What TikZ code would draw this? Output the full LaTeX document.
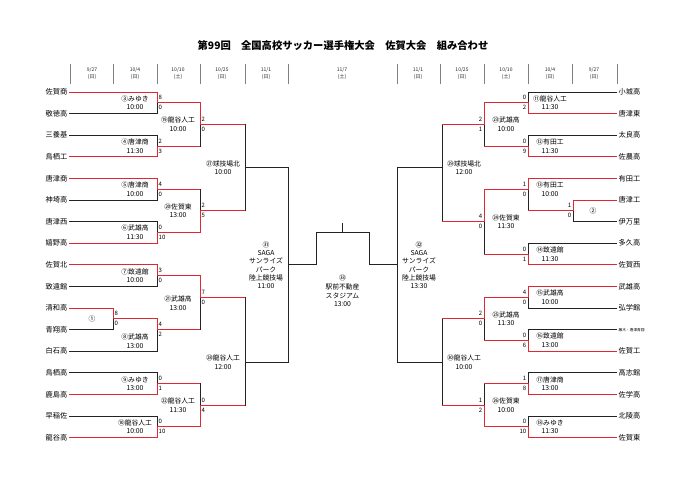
\documentclass[tikz,border=0pt]{standalone}
\usepackage{fontspec}
\setmainfont{Noto Sans CJK JP}
\definecolor{winred}{RGB}{222,40,52}
\definecolor{ink}{RGB}{35,35,35}
\tikzset{
  team/.style={font=\fontsize{7.2}{8}\selectfont, inner sep=1.5pt},
  game/.style={font=\fontsize{6.8}{8.6}\selectfont, align=center, inner sep=0pt},
  score/.style={font=\fontsize{6}{7}\selectfont, inner sep=0pt},
  datelab/.style={font=\fontsize{5}{6.5}\selectfont, align=center, text=ink},
  lose/.style={draw=ink, line width=0.75pt},
  win/.style={draw=winred, line width=0.95pt},
  tick/.style={draw=gray, line width=0.5pt}
}

\begin{document}
\begin{tikzpicture}[x=1pt, y=-1pt]
\fill[white] (0,0) rectangle (700,495);
\useasboundingbox (0,0) rectangle (700,495);

\node[font=\bfseries\fontsize{10.3}{12}\selectfont] (title) at (343,46) {第99回　全国高校サッカー選手権大会　佐賀大会　組み合わせ};

\foreach \x in {70,113,157,200,245,288,397,440,484,528,572,617}
  \draw[tick] (\x,64) -- (\x,84);
\foreach \x/\mo/\dd/\w in {92/9/27/日,135/10/4/日,178/10/10/土,222/10/25/日,266/11/1/日,342/11/7/土,418/11/1/日,462/10/25/日,506/10/10/土,550/10/4/日,594/9/27/日}
  \node[datelab] at (\x,73.5) {\mo/\dd\\(\w)};

\foreach \t [count=\i from 0] in {佐賀商,敬徳高,三養基,鳥栖工,唐津商,神埼高,唐津西,嬉野高,佐賀北,致遠館,清和高,青翔高,白石高,鳥栖高,鹿島高,早稲佐,龍谷高}
  \node[team, anchor=east] (L\i) at (69,{92+21.6*\i}) {\t};
\foreach \t [count=\i from 0] in {小城高,唐津東,太良高,佐農高,有田工,唐津工,伊万里,多久高,佐賀西,武雄高,弘学館,{\fontsize{3.7}{4}\selectfont 厳木・唐津青翔},佐賀工,高志館,佐学高,北陵高,佐賀東}
  \node[team, anchor=west] (R\i) at (617,{92+21.6*\i}) {\t};

\foreach \m/\x/\r in {m1/113/21,m3/157/1,m4/157/5,m5/157/9,m6/157/13,m7/157/17,m8/157/22,m9/157/27,m10/157/31,m19/200/3,m20/200/11,m21/200/19,m22/200/29,m27/245/7,m28/245/25,m31/288/16,m2/573/11,m11/528/1,m12/528/5,m13/528/9,m14/528/15,m15/528/19,m16/528/23,m17/528/27,m18/528/31,m23/484/3,m24/484/12,m25/484/21,m26/484/29,m29/442/7,m30/442/25,m32/397/16}
  \coordinate (\m) at (\x,{92+10.8*\r});
\coordinate (fl) at (316,232.3);
\coordinate (fr) at (369.3,232.3);
\coordinate (m33) at (342.7,232.3);

\foreach \m/\a/\b in {m1/L10.east/L11.east,m3/L0.east/L1.east,m4/L2.east/L3.east,m5/L4.east/L5.east,m6/L6.east/L7.east,m7/L8.east/L9.east,m8/m1/L12.east,m9/L13.east/L14.east,m10/L15.east/L16.east,m19/m3/m4,m20/m5/m6,m21/m7/m8,m22/m9/m10,m27/m19/m20,m28/m21/m22,m31/m27/m28,m2/R5.west/R6.west,m11/R0.west/R1.west,m12/R2.west/R3.west,m13/R4.west/m2,m14/R7.west/R8.west,m15/R9.west/R10.west,m16/R11.west/R12.west,m17/R13.west/R14.west,m18/R15.west/R16.west,m23/m11/m12,m24/m13/m14,m25/m15/m16,m26/m17/m18,m29/m23/m24,m30/m25/m26,m32/m29/m30}
  \draw[lose] (\a) -- (\a -| \m) -- (\b -| \m) -- (\b);
\draw[lose] (m31) -| (fl) -- (fr) |- (m32);
\draw[lose] (m33) -- ++(0,-9.6);

\foreach \m/\w/\nx in {m1/L10.east/m8,m3/L0.east/m19,m4/L3.east/m19,m5/L4.east/m20,m6/L7.east/m20,m7/L8.east/m21,m8/m1/m21,m9/L14.east/m22,m10/L16.east/m22,m19/m3/m27,m20/m6/m27,m21/m7/m28,m22/m10/m28,m2/R5.west/m13,m11/R1.west/m23,m12/R3.west/m23,m13/R4.west/m24,m14/R8.west/m24,m15/R9.west/m25,m16/R12.west/m25,m17/R14.west/m26,m18/R16.west/m26,m23/m11/m29,m24/m13/m29,m25/m15/m30,m26/m18/m30}
  \draw[win] (\w) -- (\w -| \m) -- (\m) -- (\m -| \nx);

\foreach \m/\s/\t in {m1/8/0,m3/8/0,m4/2/3,m5/4/0,m6/0/10,m7/3/0,m8/4/2,m9/0/1,m10/0/10,m19/2/0,m20/2/5,m21/7/0,m22/0/4}{
  \node[score, anchor=west, xshift=1.5pt, yshift=5pt] at (\m) {\s};
  \node[score, anchor=west, xshift=1.5pt, yshift=-5pt] at (\m) {\t};
}
\foreach \m/\s/\t in {m2/1/0,m11/0/2,m12/0/9,m13/1/0,m14/0/1,m15/4/0,m16/0/6,m17/1/8,m18/0/10,m23/2/1,m24/4/0,m25/2/0,m26/1/2}{
  \node[score, anchor=east, xshift=-1.5pt, yshift=5pt] at (\m) {\s};
  \node[score, anchor=east, xshift=-1.5pt, yshift=-5pt] at (\m) {\t};
}

\foreach \m/\g/\h/\dy in {m3/③みゆき/10:00/0,m4/④唐津商/11:30/0,m5/⑤唐津商/10:00/0,m6/⑥武雄高/11:30/0,m7/⑦致遠館/10:00/0,m8/⑧武雄高/13:00/-11.4,m9/⑨みゆき/13:00/0,m10/⑩龍谷人工/10:00/0,m19/⑲龍谷人工/10:00/0,m20/⑳佐賀東/13:00/0,m21/㉑武雄高/13:00/-5.8,m22/㉒龍谷人工/11:30/0,m27/㉗球技場北/10:00/0,m28/㉘龍谷人工/12:00/0}
  \node[game, xshift=-22pt, yshift=\dy pt] at (\m) {\g\\\h};
\foreach \m/\g/\h in {m11/⑪龍谷人工/11:30,m12/⑫有田工/11:30,m13/⑬有田工/10:00,m14/⑭致遠館/11:30,m15/⑮武雄高/10:00,m16/⑯致遠館/13:00,m17/⑰唐津商/13:00,m18/⑱みゆき/11:30,m23/㉓武雄高/10:00,m24/㉔佐賀東/11:30,m25/㉕武雄高/11:30,m26/㉖佐賀東/10:00,m29/㉙球技場北/12:00,m30/㉚龍谷人工/10:00}
  \node[game, xshift=22pt] at (\m) {\g\\\h};
\node[game, xshift=-21pt] (g1) at (m1) {①};
\node[game, xshift=20pt] (g2) at (m2) {②};

\node[game, font=\fontsize{6.8}{8.35}\selectfont] (g31) at (266,265.2) {㉛\\SAGA\\サンライズ\\パーク\\陸上競技場\\11:00};
\node[game, font=\fontsize{6.8}{8.35}\selectfont] (g32) at (419,265.2) {㉜\\SAGA\\サンライズ\\パーク\\陸上競技場\\13:30};
\node[game, font=\fontsize{6.8}{8.7}\selectfont] (g33) at (342.5,291) {㉝\\駅前不動産\\スタジアム\\13:00};
\end{tikzpicture}
\end{document}
